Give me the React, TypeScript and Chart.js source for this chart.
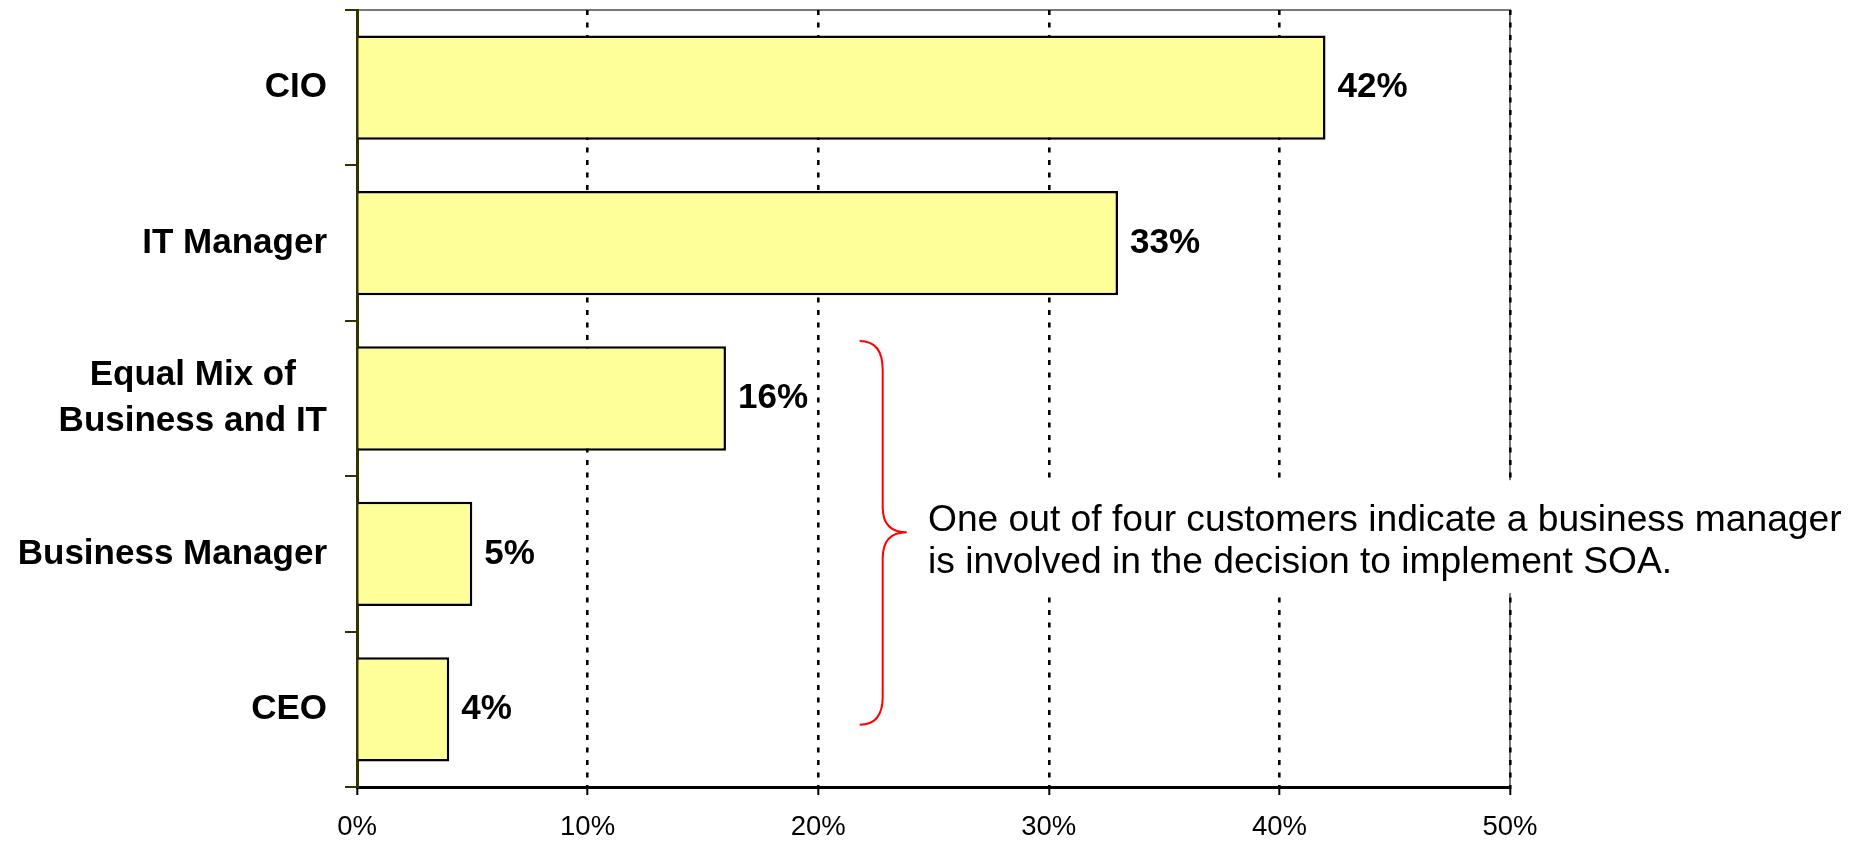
import React, { useEffect, useRef } from 'react';
import { Chart, registerables } from 'chart.js';

Chart.register(...registerables);

// ---- data ----
const categories: (string | string[])[] = [
  'CIO',
  'IT Manager',
  ['Equal Mix of', 'Business and IT'],
  'Business Manager',
  'CEO',
];
const values: number[] = [42, 33, 16, 5, 4];
const xTickValues: number[] = [0, 10, 20, 30, 40, 50];
const noteLines: string[] = [
  'One out of four customers indicate a business manager',
  'is involved in the decision to implement SOA.',
];

const FONT = '"Liberation Sans", Arial, Helvetica, sans-serif';
const OLIVE = '#333300';

const framePlugin = {
  id: 'frame',
  beforeDraw(chart: any) {
    const { ctx, chartArea: a } = chart;
    ctx.save();
    ctx.strokeStyle = '#7a7a7a';
    ctx.lineWidth = 2;
    ctx.beginPath();
    ctx.moveTo(a.left, a.top);
    ctx.lineTo(a.right, a.top);
    ctx.lineTo(a.right, a.bottom);
    ctx.stroke();
    ctx.restore();
  },
};

const labelsPlugin = {
  id: 'labels',
  afterDatasetsDraw(chart: any) {
    const { ctx, chartArea: a } = chart;
    const ys = chart.scales.y;
    ctx.save();
    ctx.fillStyle = '#000';
    ctx.font = `bold 35px ${FONT}`;
    ctx.textBaseline = 'middle';
    const right = a.left - 30;
    categories.forEach((c, i) => {
      const y = ys.getPixelForTick(i);
      const lines = Array.isArray(c) ? c : [c];
      if (lines.length === 1) {
        ctx.textAlign = 'right';
        ctx.fillText(lines[0], right, y);
      } else {
        const maxW = Math.max(...lines.map((l) => ctx.measureText(l).width));
        ctx.textAlign = 'center';
        lines.forEach((l, k) => {
          ctx.fillText(l, right - maxW / 2, y + (k - (lines.length - 1) / 2) * 46.5);
        });
      }
    });
    const meta = chart.getDatasetMeta(0);
    ctx.textAlign = 'left';
    meta.data.forEach((el: any, i: number) => {
      ctx.fillText(values[i] + '%', el.x + 12, el.y);
    });
    ctx.restore();
  },
};

const notePlugin = {
  id: 'note',
  afterDraw(chart: any) {
    const { ctx } = chart;
    const xs = chart.scales.x;
    const ys = chart.scales.y;
    const band = ys.getPixelForTick(1) - ys.getPixelForTick(0);
    const yAt = (i: number) => ys.getPixelForTick(0) + i * band;
    const tipX = xs.getPixelForValue(21.8);
    const spineX = tipX + 23;
    const pointX = tipX + 47;
    const top = yAt(1.63);
    const mid = yAt(2.86);
    const bot = yAt(4.1);

    // white box behind the text
    const boxLeft = xs.getPixelForValue(24.3);
    ctx.save();
    ctx.fillStyle = '#fff';
    ctx.fillRect(boxLeft, mid - 52, chart.width - 10 - boxLeft, 113);

    // brace
    ctx.strokeStyle = '#ff0000';
    ctx.lineWidth = 2;
    ctx.beginPath();
    ctx.moveTo(tipX, top);
    ctx.quadraticCurveTo(spineX, top, spineX, top + 29);
    ctx.lineTo(spineX, mid - 25);
    ctx.quadraticCurveTo(spineX, mid, pointX, mid);
    ctx.quadraticCurveTo(spineX, mid, spineX, mid + 26);
    ctx.lineTo(spineX, bot - 28);
    ctx.quadraticCurveTo(spineX, bot, tipX, bot);
    ctx.stroke();

    // text
    ctx.fillStyle = '#000';
    ctx.font = `37.2px ${FONT}`;
    ctx.textAlign = 'left';
    ctx.textBaseline = 'alphabetic';
    const tx = xs.getPixelForValue(24.76);
    ctx.fillText(noteLines[0], tx, mid - 1);
    ctx.fillText(noteLines[1], tx, mid + 41);
    ctx.restore();
  },
};

export default function App() {
  const ref = useRef<HTMLCanvasElement>(null);
  useEffect(() => {
    const chart = new Chart(ref.current as HTMLCanvasElement, {
      type: 'bar',
      data: {
        labels: categories as any,
        datasets: [
          {
            data: values,
            backgroundColor: '#FFFF99',
            borderColor: '#000',
            borderWidth: 2.5,
            barPercentage: 0.671,
            categoryPercentage: 1,
          },
        ],
      },
      options: {
        indexAxis: 'y',
        animation: false,
        responsive: false,
        devicePixelRatio: 1,
        layout: { padding: { top: 10, right: 352, left: 0, bottom: 0 } },
        plugins: {
          legend: { display: false },
          tooltip: { enabled: false },
        },
        scales: {
          x: {
            type: 'linear',
            min: 0,
            max: 50,
            afterBuildTicks: (s: any) => {
              s.ticks = xTickValues.map((v) => ({ value: v }));
            },
            ticks: {
              callback: (v: any) => v + '%',
              font: { size: 27.5, family: FONT },
              color: '#000',
              padding: 16,
              maxRotation: 0,
            },
            grid: {
              color: '#000',
              lineWidth: 2.6,
              tickLength: 8,
              tickColor: '#000',
              tickWidth: 2,
              tickBorderDash: [],
              drawTicks: true,
            },
            border: { display: true, color: '#000', width: 3, dash: [5, 7.5] },
            afterFit: (s: any) => {
              s.height = 54;
            },
          },
          y: {
            type: 'category',
            offset: true,
            ticks: { display: false },
            grid: {
              display: true,
              drawOnChartArea: false,
              drawTicks: true,
              tickLength: 12,
              color: OLIVE,
              lineWidth: 2,
              offset: true,
            },
            border: { display: true, color: OLIVE, width: 3 },
            afterFit: (s: any) => {
              s.width = 357;
            },
          },
        },
      } as any,
      plugins: [framePlugin, labelsPlugin, notePlugin],
    });
    return () => chart.destroy();
  }, []);
  return (
    <div style={{ position: 'fixed', left: 0, top: 0, width: 1862, height: 841, background: '#fff' }}>
      <canvas ref={ref} width={1862} height={841} style={{ display: 'block', width: 1862, height: 841 }} />
    </div>
  );
}
